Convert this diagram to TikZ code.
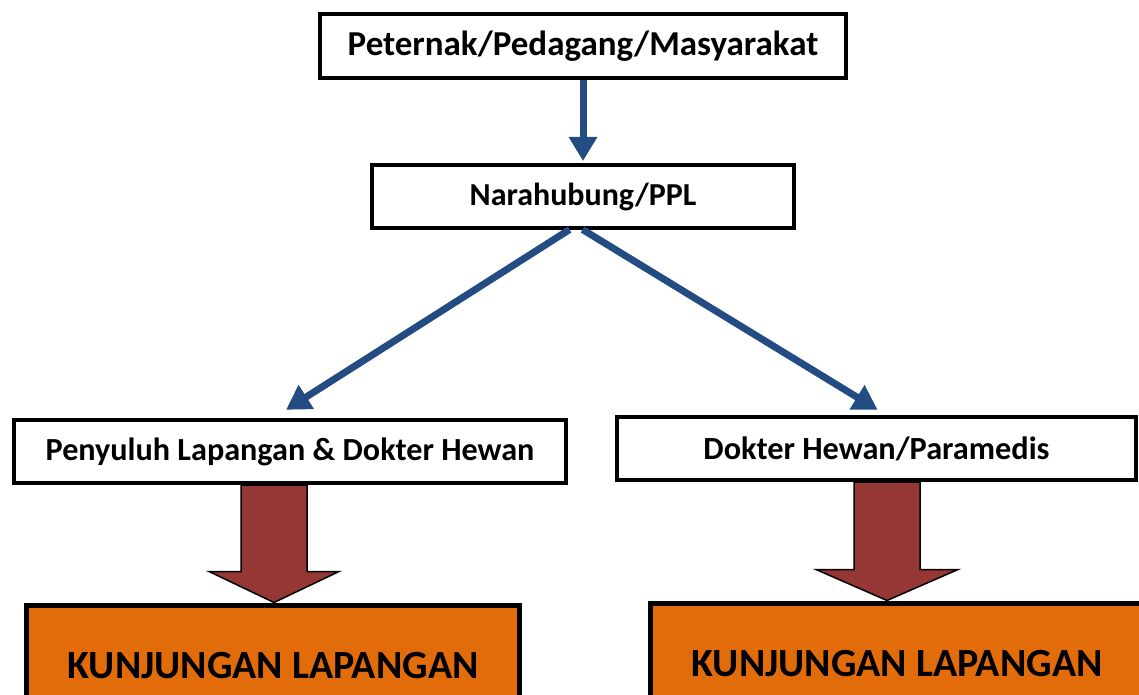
\documentclass[tikz,border=0pt]{standalone}
\usepackage{fontspec}
\setmainfont{Carlito}
\usetikzlibrary{arrows.meta,positioning,calc}
\definecolor{myblue}{RGB}{35,76,130}
\definecolor{mybrick}{RGB}{149,55,53}
\definecolor{myorange}{RGB}{227,108,10}

\tikzset{
  box/.style={draw=black,line width=4pt,fill=white,inner sep=0pt,outer sep=0pt},
  visit/.style={box,fill=myorange,line width=5pt,minimum width=493pt,minimum height=120pt,font=\bfseries\fontsize{40}{48}\selectfont},
  flow/.style={myblue,line width=7pt,-{Triangle[length=24pt,width=27pt]}},
  block/.style={draw=black,line width=1.5pt,fill=mybrick},
}

\begin{document}
\begin{tikzpicture}[x=1pt,y=-1pt]
  \clip (0,0) rectangle (1139,695);
  % kotak alur
  \node[box,minimum width=526pt,minimum height=64pt,font=\bfseries\fontsize{35}{42}\selectfont] (ppm) at (583,46) {Peternak/Pedagang/Masyarakat};
  \node[box,minimum width=422pt,minimum height=63pt,font=\bfseries\fontsize{32}{38}\selectfont] (nar) at (583,196.5) {Narahubung/PPL};
  \node[box,minimum width=552pt,minimum height=63pt,font=\bfseries\fontsize{32.2}{38}\selectfont] (pld) at (290,451.5) {Penyuluh Lapangan \& Dokter Hewan};
  \node[box,minimum width=519pt,minimum height=63pt,font=\bfseries\fontsize{32.3}{38}\selectfont] (dhp) at (876.5,448.5) {Dokter Hewan/Paramedis};
  \node[visit] (kl) at (273,665.5) {KUNJUNGAN LAPANGAN};
  \node[visit] (kr) at (897,663.5) {KUNJUNGAN LAPANGAN};
  % panah biru
  \draw[flow,shorten <=2pt,shorten >=4pt] (ppm.south) -- (nar.north);
  \draw[flow,shorten <=3pt,shorten >=19pt] ([xshift=-11pt]nar.south) -- ([xshift=-20pt]pld.north);
  \draw[flow,shorten <=3pt,shorten >=14pt] ([xshift=-3pt]nar.south) -- ([xshift=13pt]dhp.north);
  % panah blok
  \foreach \src/\dst/\dx/\hw in {pld/kl/1/65, dhp/kr/-10/71} {
    \coordinate (tip) at ($(\dst.north)+(\dx,-3)$);
    \draw[block] ($(\src.south -| tip)+(-33,2)$) -- ($(tip)+(-33,-31)$) -- ($(tip)+(-\hw,-31)$) -- (tip)
      -- ($(tip)+(\hw,-31)$) -- ($(tip)+(33,-31)$) -- ($(\src.south -| tip)+(33,2)$) -- cycle;
  }
\end{tikzpicture}
\end{document}
